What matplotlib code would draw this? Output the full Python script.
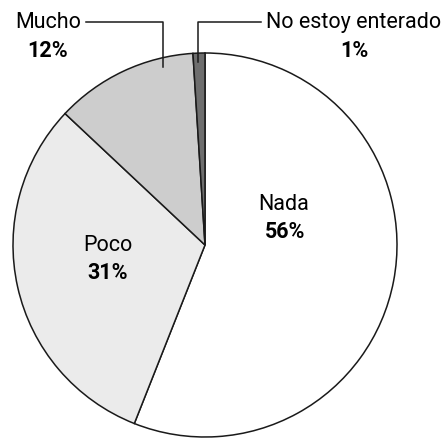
import matplotlib.pyplot as plt

plt.rcParams['font.family'] = ['Roboto', 'DejaVu Sans']

# Datos
categorias = ['Nada', 'Poco', 'Mucho', 'No estoy enterado']
porcentajes = [56, 31, 12, 1]
colores = ['#ffffff', '#ebebeb', '#cdcdcd', '#6e6e6e']

W, H = 446, 440
fig = plt.figure(figsize=(W / 100, H / 100), dpi=100)
ax = fig.add_axes([0, 0, 1, 1])

cx, cy, r = 205, H - 245, 192
ax.pie(porcentajes, colors=colores, startangle=90, counterclock=False,
       center=(cx, cy), radius=r, frame=True,
       wedgeprops=dict(edgecolor='#1a1a1a', linewidth=1.1))
ax.set_xlim(0, W)
ax.set_ylim(0, H)
ax.set_aspect('equal')
ax.axis('off')

def y(p):
    return H - p

fs = 15.5
# etiquetas dentro
ax.text(284, y(204), categorias[0], ha='center', va='center', fontsize=fs)
ax.text(285, y(232), f'{porcentajes[0]}%', ha='center', va='center', fontsize=fs, fontweight='bold')
ax.text(108, y(245), categorias[1], ha='center', va='center', fontsize=fs)
ax.text(108, y(273), f'{porcentajes[1]}%', ha='center', va='center', fontsize=fs, fontweight='bold')

# etiquetas fuera con líneas guía
ax.text(48, y(22), categorias[2], ha='center', va='center', fontsize=fs)
ax.text(48, y(51), f'{porcentajes[2]}%', ha='center', va='center', fontsize=fs, fontweight='bold')
ax.plot([86, 163, 163], [y(22), y(22), y(67)], color='#1a1a1a', lw=1.1)

ax.text(354, y(22), categorias[3], ha='center', va='center', fontsize=fs)
ax.text(354, y(51), f'{porcentajes[3]}%', ha='center', va='center', fontsize=fs, fontweight='bold')
ax.plot([261, 198, 198], [y(22), y(22), y(62)], color='#1a1a1a', lw=1.1)

fig.savefig('out.png', dpi=100, facecolor='white')
